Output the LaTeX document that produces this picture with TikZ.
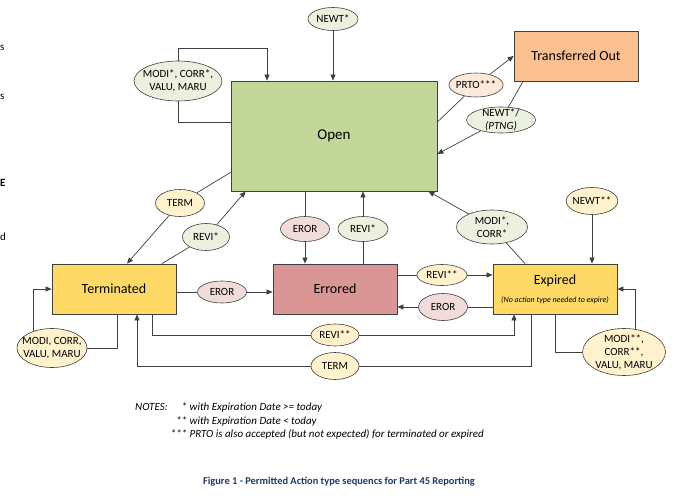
\documentclass[tikz,border=0pt]{standalone}
\usepackage{fontspec}
\setmainfont{Carlito}
\usepackage{xcolor}
\usetikzlibrary{arrows.meta, positioning, shapes.geometric}
\definecolor{opengreen}{HTML}{C4D79B}
\definecolor{transorange}{HTML}{FAC090}
\definecolor{stateyellow}{HTML}{FFD966}
\definecolor{errrose}{HTML}{D99694}
\definecolor{lblgreen}{HTML}{EBF1DE}
\definecolor{lblyellow}{HTML}{FFF2CC}
\definecolor{lblpink}{HTML}{F2DCDB}
\definecolor{lblpeach}{HTML}{FDE9D9}
\definecolor{linegray}{HTML}{404040}
\definecolor{captionblue}{HTML}{1F3864}
\tikzstyle{state} = [rectangle, draw=linegray, line width=0.8pt, minimum width=124pt, minimum height=50pt, inner sep=0pt, font=\fontsize{14}{16}\selectfont]
\tikzstyle{action} = [ellipse, draw=linegray, line width=0.6pt, inner sep=1pt, align=center, font=\fontsize{11}{13}\selectfont]
\tikzstyle{line} = [draw=linegray, line width=0.7pt]
\tikzstyle{arrow} = [line, -{Triangle[length=6pt,width=5pt]}]
\tikzstyle{notetext} = [inner sep=0pt, font=\fontsize{11}{13.5}\selectfont\itshape]

\begin{document}
\begin{tikzpicture}[x=1pt, y=-1pt]
    \useasboundingbox (0,0) rectangle (687,503);

    % cut off page text
    \node [anchor=west, inner sep=0pt, font=\fontsize{11}{12}\selectfont] at (0,48) {s};
    \node [anchor=west, inner sep=0pt, font=\fontsize{11}{12}\selectfont] at (0,97) {s};
    \node [anchor=west, inner sep=0pt, font=\fontsize{11}{12}\selectfont\bfseries] at (0,183) {E};
    \node [anchor=west, inner sep=0pt, font=\fontsize{11}{12}\selectfont] at (0,237) {d};

    % States
    \node (open) [state, fill=opengreen, minimum width=206pt, minimum height=110pt, font=\fontsize{15}{17}\selectfont] at (334,136) {Open};
    \node (trans) [state, fill=transorange] at (576,56) {Transferred Out};
    \node (termd) [state, fill=stateyellow] at (114,289) {Terminated};
    \node (errored) [state, fill=errrose] at (335,289) {Errored};
    \node (expired) [state, fill=stateyellow, align=center] at (555,289) {Expired\\[2pt]{\fontsize{8}{9}\selectfont\itshape (No action type needed to expire)}};

    % Action types
    \node (newtA) [action, fill=lblgreen, minimum width=50pt, minimum height=23pt] at (333,19) {NEWT*};
    \node (modiA) [action, fill=lblgreen, minimum width=84pt, minimum height=40pt, inner xsep=-4pt] at (178,81) {MODI*, CORR*,\\VALU, MARU};
    \node (prto) [action, fill=lblpeach, minimum width=49pt, minimum height=24pt, inner xsep=-1pt] at (476,85) {PRTO***};
    \node (newtB) [action, fill=lblgreen, minimum width=69pt, minimum height=26pt, inner ysep=-2pt] at (501,120) {NEWT*/\\\textit{(PTNG)}};
    \node (termA) [action, fill=lblyellow, minimum width=49pt, minimum height=27pt] at (180,203) {TERM};
    \node (reviA) [action, fill=lblgreen, minimum width=47pt, minimum height=27pt] at (206,237) {REVI*};
    \node (erorA) [action, fill=lblpink, minimum width=49pt, minimum height=25pt] at (305,229) {EROR};
    \node (reviB) [action, fill=lblgreen, minimum width=50pt, minimum height=25pt] at (363,229) {REVI*};
    \node (modiC) [action, fill=lblgreen, minimum width=71pt, minimum height=34pt] at (492,227) {MODI*,\\CORR*};
    \node (newtC) [action, fill=lblyellow, minimum width=49pt, minimum height=27pt, inner xsep=-1pt] at (592,201) {NEWT**};
    \node (erorB) [action, fill=lblpink, minimum width=49pt, minimum height=22pt] at (222,292) {EROR};
    \node (reviC) [action, fill=lblyellow, minimum width=50pt, minimum height=21pt, inner xsep=-1pt] at (442,275) {REVI**};
    \node (erorC) [action, fill=lblpink, minimum width=49pt, minimum height=27pt] at (443,307) {EROR};
    \node (reviD) [action, fill=lblyellow, minimum width=48pt, minimum height=22pt, inner xsep=-1pt] at (335,335) {REVI**};
    \node (termB) [action, fill=lblyellow, minimum width=48pt, minimum height=27pt] at (335,366) {TERM};
    \node (modiB) [action, fill=lblyellow, minimum width=70pt, minimum height=39pt, inner xsep=-5pt, inner ysep=-1pt] at (52,348) {MODI, CORR,\\VALU, MARU};
    \node (modiD) [action, fill=lblyellow, minimum width=83pt, minimum height=47pt, inner xsep=-1pt, inner ysep=-3pt] at (624,352) {MODI**,\\CORR**,\\VALU, MARU};

    % Connectors
    \coordinate (loopA) at (267,48);
    \draw [arrow] (newtA) -- (newtA |- open.north);
    \draw [line] ([yshift=14pt]open.west) -| (modiA);
    \draw [arrow] (modiA) |- (loopA) -- (loopA |- open.north);
    \draw [line] ([yshift=14pt]open.east) -- (prto);
    \draw [arrow] (prto) -- (trans.west);
    \draw [line] ([xshift=-53pt]trans.south) -- (newtB);
    \draw [arrow] (newtB) -- ([yshift=-18pt]open.east);
    \draw [line] ([yshift=19pt]open.south west) -- (termA);
    \draw [arrow] (termA) -- ([xshift=13pt]termd.north);
    \draw [line] ([xshift=48pt]termd.north) -- (reviA);
    \draw [arrow] (reviA) -- ([xshift=15pt]open.south west);
    \draw [line] (erorA |- open.south) -- (erorA);
    \draw [arrow] (erorA) -- (erorA |- errored.north);
    \draw [line] (reviB |- errored.north) -- (reviB);
    \draw [arrow] (reviB) -- (reviB |- open.south);
    \draw [line] ([xshift=-30pt]expired.north) -- (modiC);
    \draw [arrow] (modiC) -- ([xshift=-9pt]open.south east);
    \draw [arrow] (newtC) -- (newtC |- expired.north);
    \draw [line] (termd.east |- erorB) -- (erorB);
    \draw [arrow] (erorB) -- (errored.west |- erorB);
    \draw [line] (errored.east |- reviC) -- (reviC);
    \draw [arrow] (reviC) -- (expired.west |- reviC);
    \draw [line] (expired.west |- erorC) -- (erorC);
    \draw [arrow] (erorC) -- (errored.east |- erorC);
    \draw [line] ([xshift=38pt]termd.south) |- (reviD);
    \draw [arrow] (reviD) -| ([xshift=-41pt]expired.south);
    \draw [line] ([xshift=-24pt]expired.south) |- (termB);
    \draw [arrow] (termB) -| ([xshift=23pt]termd.south);
    \draw [line] ([xshift=3pt]termd.south) |- (modiB);
    \draw [arrow] (modiB.139) |- (termd.west);
    \draw [line] (expired.south) |- (modiD);
    \draw [arrow] (modiD.64) |- (expired.east);

    % Notes and caption
    \node (notes) [notetext, anchor=north west] at (135,401) {\begin{tabular}{@{}l@{\hspace{3pt}}r@{ }l@{}}NOTES: & * & with Expiration Date >= today\\ & ** & with Expiration Date < today\\ & *** & PRTO is also accepted (but not expected) for terminated or expired\end{tabular}};
    \node (caption) [font=\fontsize{10.4}{12}\selectfont\bfseries, text=captionblue] at (339,482) {Figure 1 - Permitted Action type sequencs for Part 45 Reporting};
\end{tikzpicture}
\end{document}
